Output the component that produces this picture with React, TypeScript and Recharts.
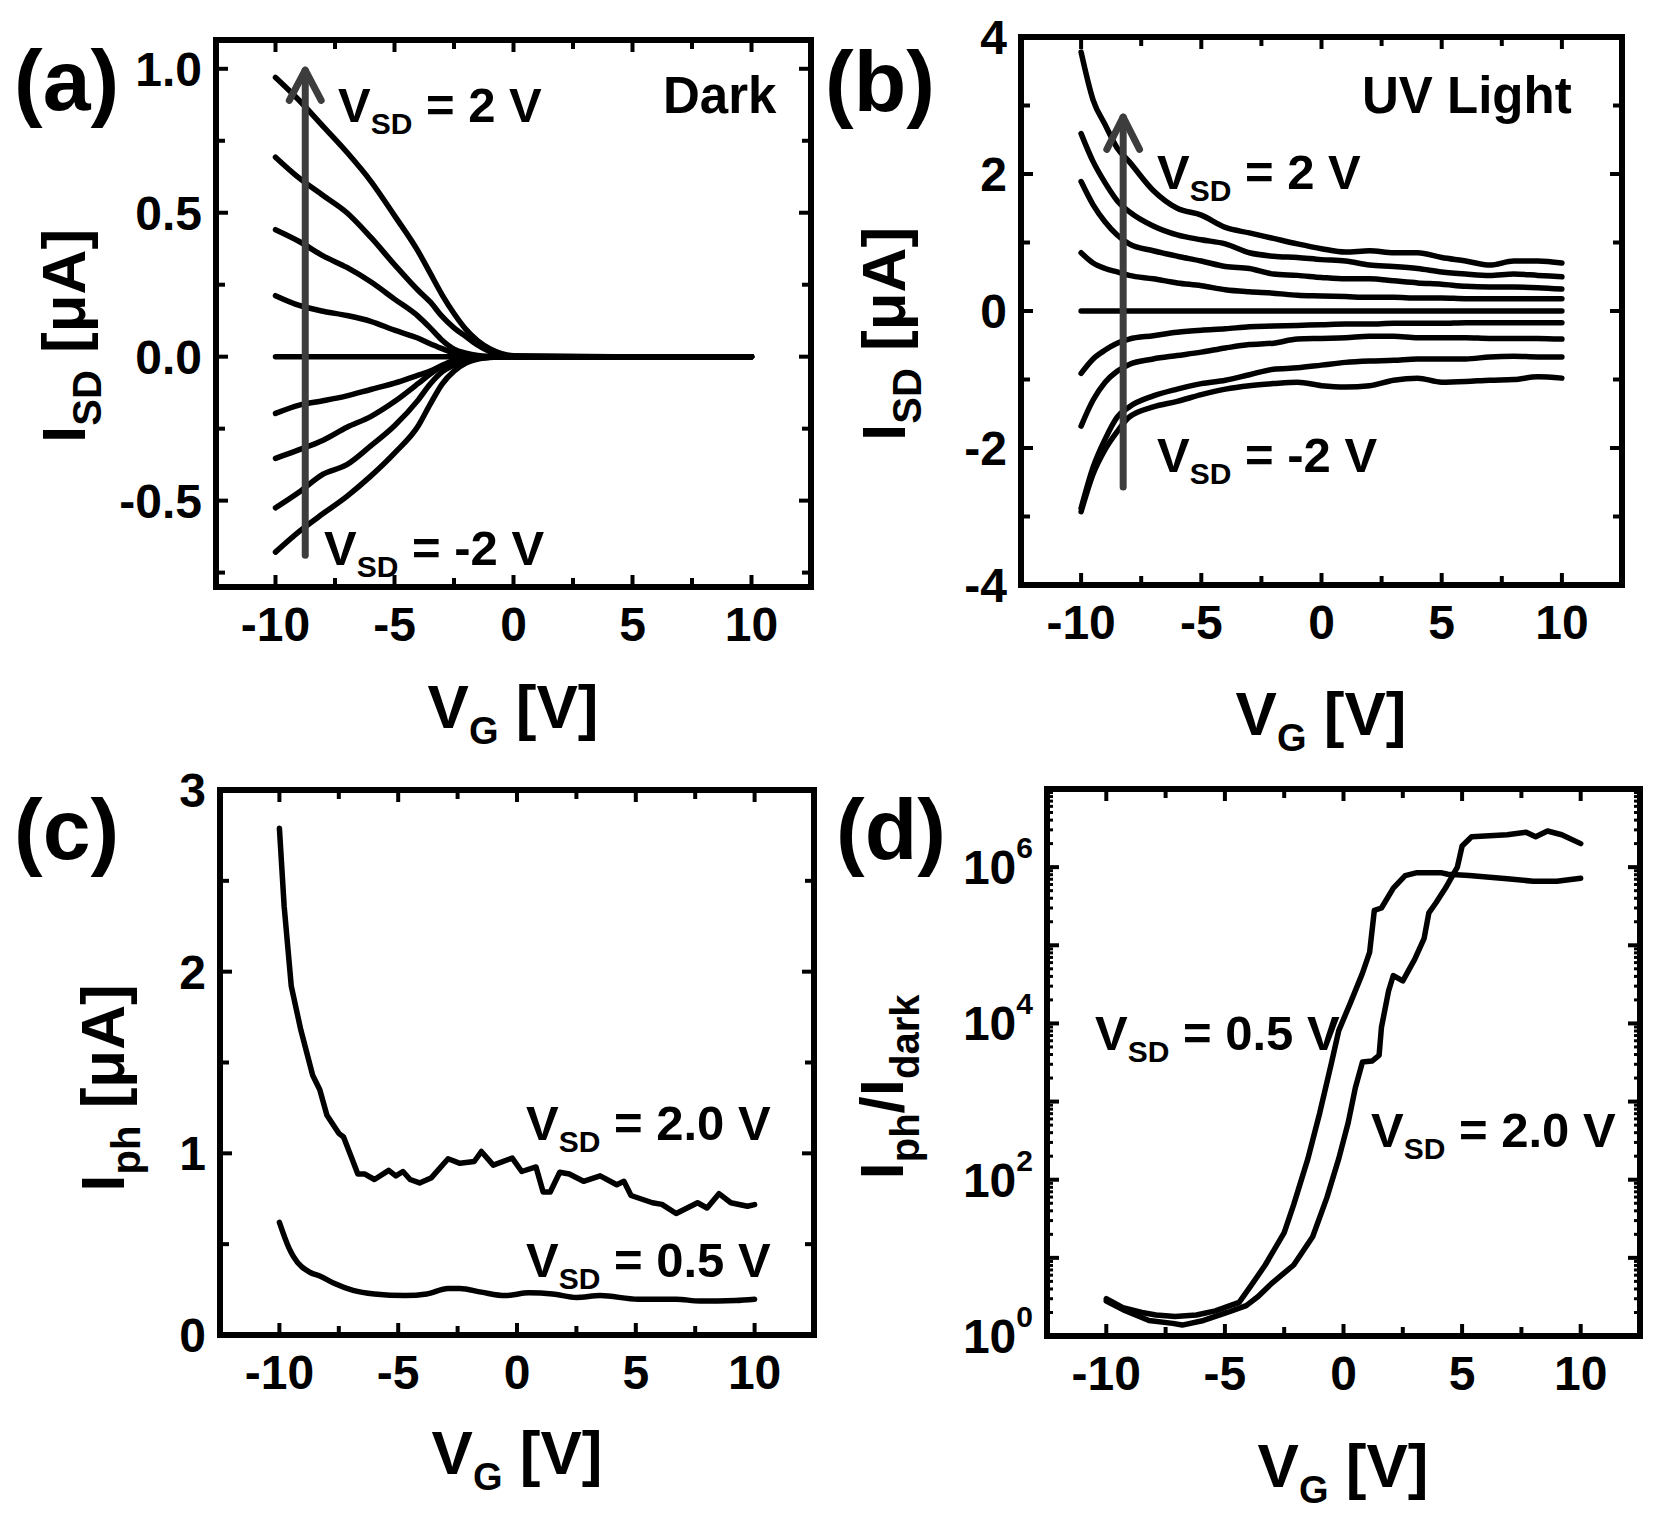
import React from "react";
import {
  LineChart,
  Line,
  XAxis,
  YAxis,
  ReferenceArea,
  ReferenceLine,
} from "recharts";

const PAGE_W = 1671;
const PAGE_H = 1515;
const AXIS = 60;
const FONT = "'Liberation Sans', Arial, Helvetica, sans-serif";
const ARROW = "#3d3d3d";

// shared gate-voltage ticks
const vgTicks = [-10, -7.5, -5, -2.5, 0, 2.5, 5, 7.5, 10];
const vgLabels = [-10, -5, 0, 5, 10];

// (a) dark, I_SD vs V_G for V_SD = 2 ... -2 V
const vgDark = [-10, -9, -8, -7, -6, -5, -4, -3.5, -3, -2.5, -2, -1.5, -1, -0.5, 0, 5, 10];
const dark2p0 = [0.97, 0.89, 0.8, 0.71, 0.61, 0.49, 0.365, 0.29, 0.215, 0.15, 0.095, 0.055, 0.028, 0.011, 0.003, 0, 0];
const dark1p5 = [0.693, 0.62, 0.56, 0.5, 0.415, 0.32, 0.23, 0.19, 0.14, 0.1, 0.07, 0.04, 0.018, 0.005, 0.001, 0, 0];
const dark1p0 = [0.441, 0.4, 0.35, 0.31, 0.26, 0.2, 0.14, 0.1, 0.057, 0.026, 0.012, 0.004, 0.001, 0, 0, 0, 0];
const dark0p5 = [0.212, 0.178, 0.158, 0.143, 0.123, 0.092, 0.064, 0.045, 0.028, 0.012, 0.003, 0.001, 0, 0, 0, 0, 0];
const dark0 = [0, 0, 0, 0, 0, 0, 0, 0, 0, 0, 0, 0, 0, 0, 0, 0, 0];
const darkM0p5 = [-0.197, -0.168, -0.153, -0.136, -0.114, -0.092, -0.064, -0.05, -0.03, -0.015, -0.007, -0.002, 0, 0, 0, 0, 0];
const darkM1p0 = [-0.353, -0.323, -0.29, -0.245, -0.208, -0.156, -0.093, -0.06, -0.033, -0.013, -0.005, -0.001, 0, 0, 0, 0, 0];
const darkM1p5 = [-0.525, -0.47, -0.408, -0.375, -0.31, -0.24, -0.15, -0.095, -0.053, -0.029, -0.014, -0.006, -0.002, 0, 0, 0, 0];
const darkM2p0 = [-0.679, -0.607, -0.545, -0.485, -0.415, -0.335, -0.24, -0.165, -0.095, -0.05, -0.022, -0.008, -0.003, -0.001, 0, 0, 0];
const darkYTicks = [-0.75, -0.5, -0.25, 0, 0.25, 0.5, 0.75, 1.0];
const darkYLabels = [-0.5, 0, 0.5, 1.0];

// (b) UV light
const vgUv = [-10, -9.5, -9, -8.5, -8, -7, -6, -5, -4, -3, -2, -1, 0, 1, 2, 3, 4, 5, 6, 7, 8, 9, 10];
const uv2p0 = [3.78, 3.08, 2.72, 2.38, 2.18, 1.76, 1.5, 1.4, 1.22, 1.14, 1.06, 0.98, 0.91, 0.86, 0.88, 0.85, 0.85, 0.78, 0.73, 0.67, 0.73, 0.73, 0.7];
const uv1p5 = [2.59, 2.18, 1.87, 1.61, 1.45, 1.24, 1.11, 1.04, 0.98, 0.85, 0.8, 0.78, 0.75, 0.73, 0.67, 0.65, 0.62, 0.57, 0.54, 0.52, 0.54, 0.52, 0.5];
const uv1p0 = [1.89, 1.55, 1.3, 1.11, 0.98, 0.88, 0.8, 0.73, 0.65, 0.62, 0.54, 0.52, 0.49, 0.47, 0.47, 0.44, 0.41, 0.39, 0.36, 0.35, 0.35, 0.34, 0.32];
const uv0p5 = [0.85, 0.7, 0.62, 0.57, 0.52, 0.47, 0.41, 0.37, 0.31, 0.28, 0.26, 0.23, 0.22, 0.21, 0.2, 0.2, 0.19, 0.19, 0.18, 0.18, 0.18, 0.18, 0.18];
const uv0 = [0, 0, 0, 0, 0, 0, 0, 0, 0, 0, 0, 0, 0, 0, 0, 0, 0, 0, 0, 0, 0, 0, 0];
const uvM0p5 = [-0.91, -0.7, -0.57, -0.47, -0.41, -0.36, -0.31, -0.28, -0.26, -0.23, -0.22, -0.21, -0.2, -0.19, -0.19, -0.18, -0.18, -0.18, -0.17, -0.17, -0.17, -0.17, -0.17];
const uvM1p0 = [-1.68, -1.3, -1.04, -0.88, -0.78, -0.7, -0.65, -0.6, -0.54, -0.49, -0.47, -0.41, -0.4, -0.39, -0.37, -0.37, -0.39, -0.39, -0.39, -0.4, -0.4, -0.4, -0.41];
const uvM1p5 = [-2.88, -2.28, -1.87, -1.55, -1.4, -1.24, -1.14, -1.06, -1.01, -0.93, -0.85, -0.83, -0.79, -0.75, -0.73, -0.72, -0.7, -0.7, -0.7, -0.67, -0.66, -0.67, -0.67];
const uvM2p0 = [-2.93, -2.38, -2.02, -1.76, -1.55, -1.4, -1.32, -1.22, -1.14, -1.09, -1.06, -1.04, -1.09, -1.11, -1.09, -1.01, -0.98, -1.04, -1.03, -1.01, -1.0, -0.96, -0.98];
const uvYTicks = [-4, -3, -2, -1, 0, 1, 2, 3, 4];
const uvYLabels = [-4, -2, 0, 2, 4];

// (c) photocurrent
const vgIph20 = [-10, -9.8, -9.5, -9.1, -8.6, -8.3, -8.0, -7.5, -7.3, -6.9, -6.7, -6.4, -6.0, -5.4, -5.1, -4.8, -4.5, -4.1, -3.6, -2.9, -2.4, -1.8, -1.5, -1.0, -0.2, 0.2, 0.8, 1.1, 1.4, 1.8, 2.2, 2.8, 3.5, 4.2, 4.5, 4.8, 5.7, 6.1, 6.7, 7.6, 8.0, 8.5, 9.0, 9.7, 10];
const iph20 = [2.79, 2.36, 1.92, 1.68, 1.43, 1.35, 1.21, 1.11, 1.09, 0.955, 0.886, 0.886, 0.856, 0.906, 0.876, 0.9, 0.856, 0.837, 0.866, 0.97, 0.945, 0.955, 1.01, 0.935, 0.974, 0.9, 0.925, 0.787, 0.787, 0.896, 0.886, 0.846, 0.876, 0.827, 0.846, 0.768, 0.728, 0.719, 0.669, 0.728, 0.699, 0.778, 0.728, 0.709, 0.718];
const vgIph05 = [-10, -9.6, -9.4, -8.7, -8.3, -7.7, -6.9, -6.0, -4.7, -3.8, -2.9, -2.4, -1.5, -0.5, 0.5, 1.5, 2.5, 3.5, 5.1, 6.7, 7.7, 9.2, 10];
const iph05 = [0.62, 0.48, 0.43, 0.344, 0.325, 0.285, 0.246, 0.226, 0.217, 0.226, 0.256, 0.256, 0.236, 0.217, 0.232, 0.226, 0.207, 0.217, 0.197, 0.197, 0.187, 0.19, 0.197];
const iphYTicks = [0, 0.5, 1, 1.5, 2, 2.5, 3];
const iphYLabels = [0, 1, 2, 3];

// (d) I_ph / I_dark
const vgRatio05 = [-10, -9.3, -8.5, -7.9, -7.1, -6.2, -5.4, -4.4, -3.9, -3.3, -2.5, -2.1, -1.5, -1.0, -0.5, -0.2, 0.3, 0.8, 1.1, 1.3, 1.6, 2.1, 2.6, 3.1, 4.1, 4.4, 5.3, 6.9, 8.0, 9.0, 10];
const ratio05 = [3.0, 2.3, 2.0, 1.86, 1.78, 1.86, 2.1, 2.7, 4.4, 8.1, 21, 48, 186, 720, 3.2e3, 8.1e3, 1.86e4, 4.4e4, 8.1e4, 2.8e5, 3.0e5, 5.4e5, 7.8e5, 8.5e5, 8.5e5, 8.1e5, 7.8e5, 7.1e5, 6.6e5, 6.6e5, 7.2e5];
const vgRatio20 = [-10, -9.2, -8.2, -7.2, -6.8, -5.9, -4.9, -4.1, -3.6, -3.0, -2.1, -1.3, -0.7, -0.2, 0.2, 0.5, 0.8, 1.2, 1.5, 1.6, 1.9, 2.1, 2.5, 3.0, 3.4, 3.6, 3.9, 4.3, 4.8, 5.0, 5.4, 6.9, 7.7, 8.1, 8.6, 9.2, 10];
const ratio20 = [2.8, 2.1, 1.58, 1.45, 1.38, 1.58, 2.0, 2.45, 3.2, 4.8, 8.1, 18.6, 59, 186, 540, 1.5e3, 3.2e3, 3.3e3, 3.9e3, 8.9e3, 2.6e4, 4.1e4, 3.5e4, 6.6e4, 1.23e5, 2.6e5, 3.5e5, 5.4e5, 1.0e6, 1.86e6, 2.45e6, 2.6e6, 2.8e6, 2.45e6, 2.9e6, 2.6e6, 2.0e6];
const ratioDecades = [1, 10, 100, 1e3, 1e4, 1e5, 1e6, 1e7];
const ratioLabelExp = [0, 2, 4, 6];

const darkSeries = [dark2p0, dark1p5, dark1p0, dark0p5, dark0, darkM0p5, darkM1p0, darkM1p5, darkM2p0];
const uvSeries = [uv2p0, uv1p5, uv1p0, uv0p5, uv0, uvM0p5, uvM1p0, uvM1p5, uvM2p0];

const rowsOf = (xs: number[], series: number[][]) =>
  xs.map((vg, i) => {
    const row: Record<string, number> = { vg };
    series.forEach((s, k) => (row[`s${k}`] = s[i]));
    return row;
  });
const pairs = (xs: number[], ys: number[]) => xs.map((vg, i) => ({ vg, y: ys[i] }));

const darkRows = rowsOf(vgDark, darkSeries);
const uvRows = rowsOf(vgUv, uvSeries);
const ratioTicks = [
  ...ratioDecades,
  ...ratioDecades.slice(0, -1).flatMap((d) => [2, 3, 4, 5, 6, 7, 8, 9].map((m) => m * d)),
];

type Frame = { l: number; t: number; r: number; b: number };
const frameA: Frame = { l: 216, t: 40, r: 811, b: 587 };
const frameB: Frame = { l: 1021, t: 37, r: 1622, b: 585 };
const frameC: Frame = { l: 220, t: 790, r: 814, b: 1335 };
const frameD: Frame = { l: 1047, t: 789, r: 1640, b: 1336 };

const tickText = { fontFamily: FONT, fontWeight: 700, fontSize: 48, fill: "#000" };
const annText = { fontFamily: FONT, fontWeight: 700, fontSize: 51, fill: "#000" };
const vsdText = { fontFamily: FONT, fontWeight: 700, fontSize: 49, fill: "#000" };
const titleText = { fontFamily: FONT, fontWeight: 700, fontSize: 62, fill: "#000" };
const letterText = { fontFamily: FONT, fontWeight: 700, fontSize: 86, fill: "#000" };

const marginFor = (f: Frame) => ({
  left: f.l - AXIS,
  top: f.t,
  right: PAGE_W - f.r,
  bottom: PAGE_H - f.b - AXIS,
});

function makeXTick(f: Frame) {
  return (p: any) => {
    const x = p.x;
    const v = p.payload.value;
    const major = vgLabels.includes(v);
    const len = major ? 12 : 9;
    return (
      <g>
        <line x1={x} x2={x} y1={f.b} y2={f.b - len} stroke="#000" strokeWidth={4} />
        <line x1={x} x2={x} y1={f.t} y2={f.t + len} stroke="#000" strokeWidth={4} />
        {major && (
          <text x={x} y={f.b + 54} textAnchor="middle" style={tickText}>
            {String(v)}
          </text>
        )}
      </g>
    );
  };
}

function makeYTick(f: Frame, labelled: number[], fmt: (v: number) => string) {
  return (p: any) => {
    const y = p.y;
    const v = p.payload.value;
    const major = labelled.includes(v);
    const len = major ? 12 : 9;
    return (
      <g>
        <line x1={f.l} x2={f.l + len} y1={y} y2={y} stroke="#000" strokeWidth={4} />
        <line x1={f.r} x2={f.r - len} y1={y} y2={y} stroke="#000" strokeWidth={4} />
        {major && (
          <text x={f.l - 14} y={y + 17} textAnchor="end" style={tickText}>
            {fmt(v)}
          </text>
        )}
      </g>
    );
  };
}

function makeLogTick(f: Frame) {
  return (p: any) => {
    const y = p.y;
    const v = p.payload.value;
    const exp = Math.round(Math.log10(v));
    const decade = Math.abs(v - Math.pow(10, exp)) < 1e-6 * v;
    const len = decade ? 12 : 6;
    return (
      <g>
        <line x1={f.l} x2={f.l + len} y1={y} y2={y} stroke="#000" strokeWidth={decade ? 4 : 3} />
        <line x1={f.r} x2={f.r - len} y1={y} y2={y} stroke="#000" strokeWidth={decade ? 4 : 3} />
        {decade && ratioLabelExp.includes(exp) && (
          <text x={f.l - 14} y={y + 17} textAnchor="end" style={tickText}>
            10
            <tspan dy={-26} fontSize={30}>
              {String(exp)}
            </tspan>
          </text>
        )}
      </g>
    );
  };
}

const abs: React.CSSProperties = { position: "absolute", left: 0, top: 0 };

function Vsd({ x, y, value }: { x: number; y: number; value: string }) {
  return (
    <text x={x} y={y} style={vsdText}>
      V
      <tspan dy={12} fontSize={30}>
        SD
      </tspan>
      <tspan dy={-12}>{" = " + value + " V"}</tspan>
    </text>
  );
}

function XTitle({ cx, y }: { cx: number; y: number }) {
  return (
    <text x={cx} y={y} textAnchor="middle" style={titleText}>
      V
      <tspan dy={16} fontSize={38}>
        G
      </tspan>
      <tspan dy={-16}>{" [V]"}</tspan>
    </text>
  );
}

function YTitle({ x, cy, sub }: { x: number; cy: number; sub: string }) {
  return (
    <text transform={`translate(${x},${cy}) rotate(-90)`} textAnchor="middle" style={titleText}>
      I
      <tspan dy={16} fontSize={40}>
        {sub}
      </tspan>
      <tspan dy={-16}>{" [\u03bcA]"}</tspan>
    </text>
  );
}

export default function App() {
  const lineProps = {
    stroke: "#000",
    strokeWidth: 5.5,
    dot: false,
    isAnimationActive: false,
    strokeLinejoin: "round" as const,
    strokeLinecap: "round" as const,
  };
  const arrowProps = { stroke: ARROW, strokeWidth: 7, strokeLinecap: "round" as const };
  const frameProps = { fill: "none", stroke: "#000", strokeWidth: 6 };

  return (
    <div style={{ ...abs, width: PAGE_W, height: PAGE_H, background: "#fff" }}>
      {/* (a) dark */}
      <div style={abs}>
        <LineChart width={PAGE_W} height={PAGE_H} data={darkRows} margin={marginFor(frameA)}>
          <XAxis type="number" dataKey="vg" domain={[-12.5, 12.5]} ticks={vgTicks} interval={0}
            height={AXIS} axisLine={false} tickLine={false} tick={makeXTick(frameA)} allowDataOverflow />
          <YAxis type="number" domain={[-0.8, 1.1]} ticks={darkYTicks} interval={0} width={AXIS}
            axisLine={false} tickLine={false} tick={makeYTick(frameA, darkYLabels, (v) => v.toFixed(1))}
            allowDataOverflow />
          <ReferenceArea x1={-12.5} x2={12.5} y1={-0.8} y2={1.1} {...frameProps} />
          {darkSeries.map((_, k) => (
            <Line key={k} dataKey={`s${k}`} type="monotone" {...lineProps} />
          ))}
          <ReferenceLine segment={[{ x: -8.75, y: -0.69 }, { x: -8.75, y: 0.99 }]} {...arrowProps} />
          <ReferenceLine segment={[{ x: -8.75, y: 0.995 }, { x: -9.42, y: 0.89 }]} {...arrowProps} />
          <ReferenceLine segment={[{ x: -8.75, y: 0.995 }, { x: -8.08, y: 0.89 }]} {...arrowProps} />
        </LineChart>
      </div>

      {/* (b) UV light */}
      <div style={abs}>
        <LineChart width={PAGE_W} height={PAGE_H} data={uvRows} margin={marginFor(frameB)}>
          <XAxis type="number" dataKey="vg" domain={[-12.5, 12.5]} ticks={vgTicks} interval={0}
            height={AXIS} axisLine={false} tickLine={false} tick={makeXTick(frameB)} allowDataOverflow />
          <YAxis type="number" domain={[-4, 4]} ticks={uvYTicks} interval={0} width={AXIS}
            axisLine={false} tickLine={false} tick={makeYTick(frameB, uvYLabels, (v) => String(v))}
            allowDataOverflow />
          <ReferenceArea x1={-12.5} x2={12.5} y1={-4} y2={4} {...frameProps} />
          {uvSeries.map((_, k) => (
            <Line key={k} dataKey={`s${k}`} type="monotone" {...lineProps} />
          ))}
          <ReferenceLine segment={[{ x: -8.25, y: -2.57 }, { x: -8.25, y: 2.8 }]} {...arrowProps} />
          <ReferenceLine segment={[{ x: -8.25, y: 2.83 }, { x: -8.93, y: 2.36 }]} {...arrowProps} />
          <ReferenceLine segment={[{ x: -8.25, y: 2.83 }, { x: -7.57, y: 2.36 }]} {...arrowProps} />
        </LineChart>
      </div>

      {/* (c) photocurrent */}
      <div style={abs}>
        <LineChart width={PAGE_W} height={PAGE_H} margin={marginFor(frameC)}>
          <XAxis type="number" dataKey="vg" domain={[-12.5, 12.5]} ticks={vgTicks} interval={0}
            height={AXIS} axisLine={false} tickLine={false} tick={makeXTick(frameC)} allowDataOverflow />
          <YAxis type="number" domain={[0, 3]} ticks={iphYTicks} interval={0} width={AXIS}
            axisLine={false} tickLine={false} tick={makeYTick(frameC, iphYLabels, (v) => String(v))}
            allowDataOverflow />
          <ReferenceArea x1={-12.5} x2={12.5} y1={0} y2={3} {...frameProps} />
          <Line data={pairs(vgIph20, iph20)} dataKey="y" type="linear" {...lineProps} />
          <Line data={pairs(vgIph05, iph05)} dataKey="y" type="monotone" {...lineProps} />
        </LineChart>
      </div>

      {/* (d) ratio, log scale */}
      <div style={abs}>
        <LineChart width={PAGE_W} height={PAGE_H} margin={marginFor(frameD)}>
          <XAxis type="number" dataKey="vg" domain={[-12.5, 12.5]} ticks={vgTicks} interval={0}
            height={AXIS} axisLine={false} tickLine={false} tick={makeXTick(frameD)} allowDataOverflow />
          <YAxis type="number" scale="log" domain={[1, 1e7]} ticks={ratioTicks} interval={0} width={AXIS}
            axisLine={false} tickLine={false} tick={makeLogTick(frameD)} allowDataOverflow />
          <ReferenceArea x1={-12.5} x2={12.5} y1={1} y2={1e7} {...frameProps} />
          <Line data={pairs(vgRatio05, ratio05)} dataKey="y" type="linear" {...lineProps} />
          <Line data={pairs(vgRatio20, ratio20)} dataKey="y" type="linear" {...lineProps} />
        </LineChart>
      </div>

      {/* text layer */}
      <svg width={PAGE_W} height={PAGE_H} style={{ ...abs, pointerEvents: "none" }}>
        <text x={14} y={110} style={letterText}>(a)</text>
        <text x={825} y={111} style={letterText}>(b)</text>
        <text x={14} y={859} style={letterText}>(c)</text>
        <text x={836} y={859} style={letterText}>(d)</text>

        <text x={663} y={113} style={annText}>Dark</text>
        <text x={1362} y={113} style={annText}>UV Light</text>

        <Vsd x={338} y={122} value="2" />
        <Vsd x={324} y={565} value="-2" />
        <Vsd x={1157} y={189} value="2" />
        <Vsd x={1157} y={472} value="-2" />
        <Vsd x={526} y={1140} value="2.0" />
        <Vsd x={526} y={1277} value="0.5" />
        <Vsd x={1095} y={1050} value="0.5" />
        <Vsd x={1371} y={1147} value="2.0" />

        <XTitle cx={513} y={728} />
        <XTitle cx={1321} y={735} />
        <XTitle cx={517} y={1474} />
        <XTitle cx={1343} y={1487} />

        <YTitle x={85} cy={336} sub="SD" />
        <YTitle x={905} cy={334} sub="SD" />
        <YTitle x={124} cy={1088} sub="ph" />
        <text transform="translate(903,1087) rotate(-90)" textAnchor="middle" style={titleText}>
          I
          <tspan dy={16} fontSize={40}>ph</tspan>
          <tspan dy={-16}>/I</tspan>
          <tspan dy={16} fontSize={40}>dark</tspan>
        </text>
      </svg>
    </div>
  );
}
